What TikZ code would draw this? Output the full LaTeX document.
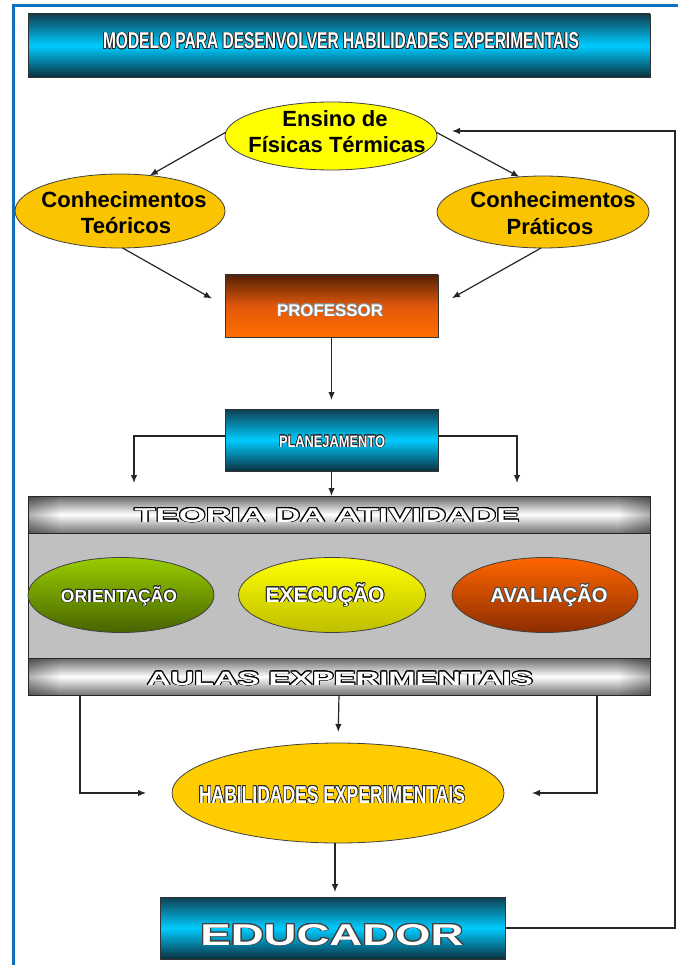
\documentclass[tikz,border=0pt]{standalone}
\usepackage{graphicx}
\usepackage{fontspec}
\setmainfont{Liberation Sans}
\usepackage{contour}
\usetikzlibrary{shapes.geometric,arrows.meta,fadings}
\contournumber{16}
\definecolor{frameblue}{RGB}{16,112,192}
\definecolor{cyanmid}{RGB}{0,204,255}
\definecolor{cyantop}{RGB}{14,62,80}
\definecolor{cyanbot}{RGB}{10,48,64}
\definecolor{proftop}{RGB}{85,32,5}
\definecolor{profmid}{RGB}{225,88,10}
\definecolor{profbot}{RGB}{255,110,0}
\definecolor{goldA}{RGB}{250,196,0}
\definecolor{goldB}{RGB}{255,204,0}
\definecolor{yel}{RGB}{255,255,0}
\definecolor{greenT}{RGB}{153,204,0}
\definecolor{greenB}{RGB}{70,100,0}
\definecolor{yelB}{RGB}{190,190,0}
\definecolor{orT}{RGB}{255,102,0}
\definecolor{orB}{RGB}{140,45,0}
\definecolor{midgray}{RGB}{192,192,192}
% white bold text with a dark outline: #1 outline colour, #2 outline width, #3 font size, #4 text
\newcommand{\outl}[4]{{\contourlength{#2}\color{white}\fontsize{#3}{#3}\selectfont\bfseries\contour{#1}{#4}}}
\begin{document}
\begin{tikzpicture}[x=1pt,y=-1pt,
  every node/.style={inner sep=0pt,outer sep=0pt},
  cyanbox/.style={rectangle,draw=black!80,line width=0.8pt,top color=cyantop,bottom color=cyanbot,middle color=cyanmid},
  metal/.style={rectangle,draw=black!85,line width=0.8pt,top color=black!60,bottom color=black!55,middle color=white},
  oval/.style={ellipse,draw=black!75,line width=0.8pt},
  lbl/.style={anchor=base,font=\bfseries\fontsize{22}{26}\selectfont,text=black},
  wtxt/.style={anchor=base},
  arr/.style={-{Latex[length=8pt,width=6.5pt]},line width=1.2pt,draw=black!85}
]
\useasboundingbox (0,0) rectangle (678,965);
% outer frame
\draw[frameblue,line width=3pt] (13,965) -- (13,6) -- (678,6);

% title
\node[cyanbox,minimum width=622pt,minimum height=63pt] (title) at (339,45.5) {};
\node[wtxt] (titleT) at (341,49) {\resizebox{476pt}{16pt}{\outl{black!85}{0.9pt}{22}{MODELO PARA DESENVOLVER HABILIDADES EXPERIMENTAIS}}};

% ellipses top
\node[oval,fill=yel,minimum width=212pt,minimum height=68pt] (ensino) at (331,136) {};
\node[lbl] (ensinoA) at (335,127) {Ensino de};
\node[lbl] (ensinoB) at (337,153) {Físicas Térmicas};

\node[oval,fill=goldA,minimum width=210pt,minimum height=74pt] (teo) at (120,211) {};
\node[lbl] (teoA) at (124,208) {Conhecimentos};
\node[lbl] (teoB) at (126,234) {Teóricos};

\node[oval,fill=goldA,minimum width=212pt,minimum height=72pt] (pra) at (543,212) {};
\node[lbl] (praA) at (553,208) {Conhecimentos};
\node[lbl] (praB) at (550,235) {Práticos};

% professor
\node[rectangle,draw=black!80,line width=0.8pt,top color=proftop,bottom color=profbot,middle color=profmid,minimum width=213pt,minimum height=62pt] (prof) at (331.5,306) {};
\node[wtxt] (profT) at (330,316) {\resizebox{106pt}{!}{\outl{black!45}{0.6pt}{17}{PROFESSOR}}};

% planejamento
\node[cyanbox,minimum width=213pt,minimum height=62pt] (plan) at (331.5,440) {};
\node[wtxt] (planT) at (332,447) {\resizebox{106pt}{11.5pt}{\outl{black!85}{0.7pt}{16}{PLANEJAMENTO}}};

% gray panel
\node[rectangle,draw=black!85,line width=0.8pt,fill=midgray,minimum width=622pt,minimum height=125pt] (panel) at (339,595.5) {};
\node[metal,minimum width=622pt,minimum height=37pt] (teoria) at (339,514.5) {};
\fill[black,opacity=0.3,path fading=east] (28.5,496.5) rectangle (60,532.5);
\fill[black,opacity=0.3,path fading=west] (618,496.5) rectangle (649.5,532.5);
\node[wtxt] (teoriaT) at (327,522) {\resizebox{385pt}{14pt}{\outl{black}{0.6pt}{19.5}{TEORIA DA ATIVIDADE}}};

\node[metal,minimum width=622pt,minimum height=37pt] (aulas) at (339,676.5) {};
\fill[black,opacity=0.3,path fading=east] (28.5,658.5) rectangle (60,694.5);
\fill[black,opacity=0.3,path fading=west] (618,658.5) rectangle (649.5,694.5);
\node[wtxt] (aulasT) at (340,685) {\resizebox{386pt}{13.5pt}{\outl{black}{0.6pt}{19}{AULAS EXPERIMENTAIS}}};

% activity ellipses
\node[oval,top color=greenT,bottom color=greenB,minimum width=186pt,minimum height=75pt] (orient) at (121,595) {};
\node[wtxt] (orientT) at (119,602) {\resizebox{116pt}{!}{\outl{black!85}{0.7pt}{17}{ORIENTAÇÃO}}};
\node[oval,top color=yel,bottom color=yelB,minimum width=187pt,minimum height=75pt] (exec) at (332,595) {};
\node[wtxt] (execT) at (325,602) {\resizebox{119pt}{!}{\outl{black!85}{0.8pt}{20}{EXECUÇÃO}}};
\node[oval,top color=orT,bottom color=orB,minimum width=186pt,minimum height=75pt] (aval) at (545,595) {};
\node[wtxt] (avalT) at (549,602) {\resizebox{117pt}{!}{\outl{black!70}{0.7pt}{19.5}{AVALIAÇÃO}}};

% habilidades
\node[oval,fill=goldB,minimum width=332pt,minimum height=100pt] (habil) at (338,793) {};
\node[wtxt] (habilT) at (332,803) {\resizebox{266pt}{17pt}{\outl{black!85}{0.8pt}{24}{HABILIDADES EXPERIMENTAIS}}};

% educador
\node[cyanbox,minimum width=345pt,minimum height=62pt] (educ) at (332.5,928) {};
\node[wtxt] (educT) at (332,945) {\resizebox{263pt}{21pt}{\outl{black!75}{0.8pt}{29}{EDUCADOR}}};

% connectors
\draw[arr] (ensino.178) -- (teo.50);
\draw[arr] (ensino.2) -- (pra.124);
\draw[arr,shorten >=15pt] (teo.274) -- (prof.west);
\draw[arr,shorten >=16pt] (pra.267) -- (prof.east);
\draw[arr,shorten >=9pt] (prof.south) -- (plan.north);
\coordinate (planL) at (134,483);
\coordinate (planR) at (517,483);
\draw[arr] ([yshift=4pt]plan.west) -| (planL);
\draw[arr] ([yshift=4pt]plan.east) -| (planR);
\draw[arr] (plan.south) -- (plan.south |- teoria.north);
\draw[arr,shorten >=11pt] (aulas.south) -- (habil.north);
\draw[arr] ([xshift=52pt]aulas.south west) |- ([xshift=-26pt]habil.west);
\draw[arr] ([xshift=-53pt]aulas.south east) |- ([xshift=28pt]habil.east);
\draw[arr,shorten >=5pt] ([xshift=-3pt]habil.south) -- ([xshift=-3pt]habil.south |- educ.north);
\draw[arr] (educ.east) -- ++(170,0) |- ([xshift=15pt,yshift=5pt]ensino.east);
\end{tikzpicture}
\end{document}
